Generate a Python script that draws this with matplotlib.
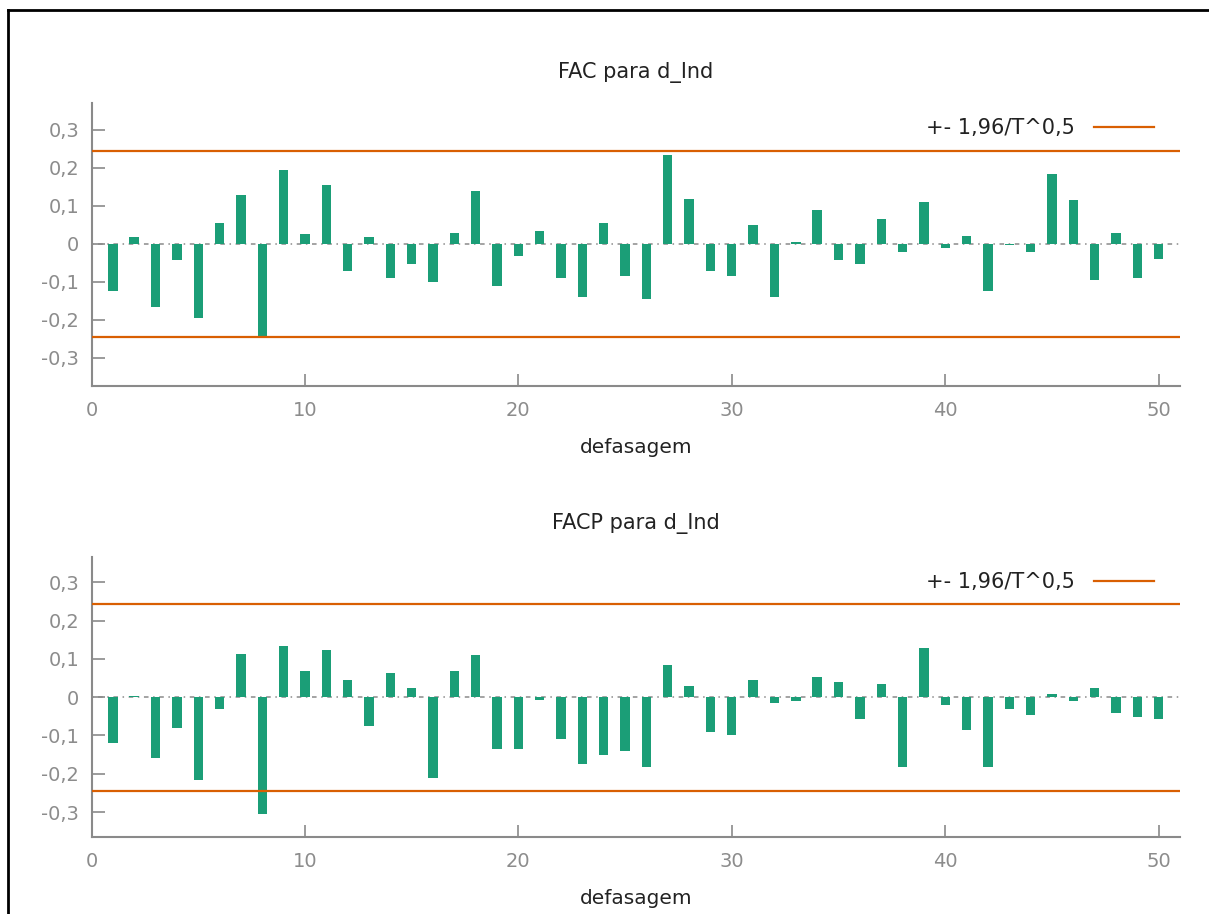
import numpy as np
import matplotlib
matplotlib.use('Agg')
import matplotlib.pyplot as plt
from matplotlib.lines import Line2D
from matplotlib.ticker import FuncFormatter

# Data
lags = np.arange(1, 51)

fac = [-0.125, 0.017, -0.165, -0.042, -0.195, 0.054, 0.129, -0.242, 0.194, 0.025,
       0.154, -0.070, 0.017, -0.090, -0.054, -0.100, 0.030, 0.140, -0.111, -0.031,
       0.034, -0.090, -0.140, 0.054, -0.084, -0.145, 0.234, 0.119, -0.070, -0.084,
       0.050, -0.140, 0.005, 0.089, -0.041, -0.054, 0.065, -0.020, 0.110, -0.010,
       0.020, -0.125, -0.002, -0.020, 0.184, 0.115, -0.095, 0.030, -0.090, -0.040]

facp = [-0.119, 0.004, -0.160, -0.081, -0.215, -0.032, 0.113, -0.304, 0.133, 0.068,
        0.124, 0.045, -0.075, 0.064, 0.025, -0.210, 0.068, 0.109, -0.136, -0.136,
        -0.007, -0.110, -0.175, -0.150, -0.140, -0.181, 0.083, 0.029, -0.091, -0.099,
        0.044, -0.016, -0.011, 0.054, 0.039, -0.056, 0.034, -0.181, 0.128, -0.021,
        -0.086, -0.181, -0.032, -0.046, 0.009, -0.011, 0.025, -0.041, -0.051, -0.056]

band = 0.244
titles = ["FAC para d_Ind", "FACP para d_Ind"]
xlab = "defasagem"
leg_label = "+- 1,96/T^0,5"

green = '#1b9e77'
orange = '#d95f02'
grey = '#8a8a8a'

plt.rcParams['font.family'] = 'DejaVu Sans'

fig = plt.figure(figsize=(12.09, 9.14), dpi=100)

left, width = 91.5 / 1209, 1088.5 / 1209
pos = [(386, 103, (-0.374, 0.371), 18), (837, 557, (-0.365, 0.366), 20)]

def comma(v, p):
    if abs(v) < 1e-9:
        return '0'
    return ('%.1f' % v).replace('.', ',')

for i, vals in enumerate([fac, facp]):
    bot_px, top_px, yl, tpad = pos[i]
    ax = fig.add_axes([left, 1 - bot_px / 914, width, (bot_px - top_px) / 914])
    ax.bar(lags, vals, width=0.44, color=green, zorder=3)
    ax.plot([0, 51], [0, 0], color=grey, lw=1.1, ls=(0, (1, 3, 3, 3)), zorder=2)
    ax.axhline(band, color=orange, lw=1.6, zorder=4, label=leg_label)
    ax.axhline(-band, color=orange, lw=1.6, zorder=4)
    ax.set_xlim(0, 51)
    ax.set_ylim(*yl)
    ax.set_xticks([0, 10, 20, 30, 40, 50])
    ax.set_yticks([-0.3, -0.2, -0.1, 0, 0.1, 0.2, 0.3])
    ax.yaxis.set_major_formatter(FuncFormatter(comma))
    for s in ['top', 'right']:
        ax.spines[s].set_visible(False)
    for s in ['left', 'bottom']:
        ax.spines[s].set_color(grey)
        ax.spines[s].set_linewidth(1.5)
    ax.tick_params(direction='in', length=9, width=1.2, color=grey,
                   labelcolor='#8c8c8c', labelsize=14, pad=9)
    ax.tick_params(axis='x', pad=11)
    ax.set_xlabel(xlab, fontsize=14.5, color='#222222', labelpad=13)
    ax.set_title(titles[i], fontsize=15, color='#222222', pad=tpad)
    ax.legend(loc='upper right', bbox_to_anchor=(0.9935, 1.012), frameon=False,
              markerfirst=False, handlelength=2.9, handletextpad=0.9,
              fontsize=15, labelcolor='#222222')

# screenshot frame
fig.add_artist(Line2D([8 / 1209, 8 / 1209], [0, 1 - 10 / 914], color='black', lw=2))
fig.add_artist(Line2D([8 / 1209, 1], [1 - 10 / 914, 1 - 10 / 914], color='black', lw=2))

fig.savefig('out.png', dpi=100)
